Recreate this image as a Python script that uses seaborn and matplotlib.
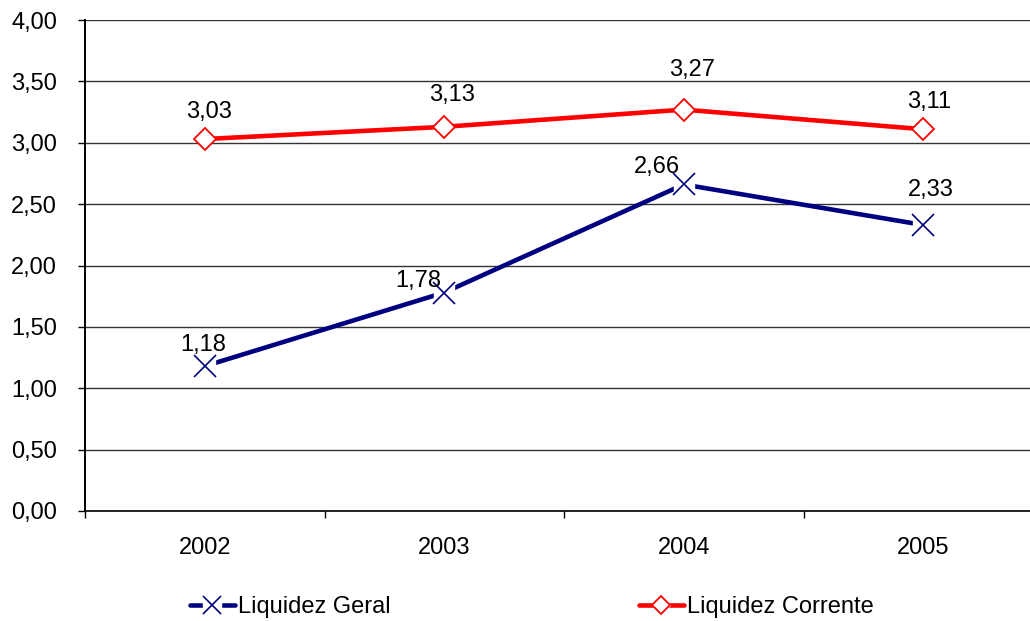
import matplotlib
matplotlib.use("Agg")
import matplotlib.pyplot as plt
from matplotlib.lines import Line2D
from matplotlib.legend_handler import HandlerTuple
from matplotlib.ticker import FixedLocator, FuncFormatter
import pandas as pd
import seaborn as sns

# Liquidity ratios per year
years = ["2002", "2003", "2004", "2005"]
liquidez_geral = [1.18, 1.78, 2.66, 2.33]
liquidez_corrente = [3.03, 3.13, 3.27, 3.11]
series_names = ["Liquidez Geral", "Liquidez Corrente"]
y_ticks = [0.0, 0.5, 1.0, 1.5, 2.0, 2.5, 3.0, 3.5, 4.0]

# Style
colors = {"Liquidez Geral": "#000080", "Liquidez Corrente": "#FF0000"}
FS = 17
# label offsets in pixels (dx, dy) per point, so labels sit clear of the lines
label_offsets = {
    "Liquidez Geral": [(-2, 21), (-26, 12), (-27, 17), (8, 35)],
    "Liquidez Corrente": [(4, 27), (8, 32), (8, 40), (6, 27)],
}

sns.set_theme(style="white")
plt.rcParams["font.family"] = ["Liberation Sans", "DejaVu Sans"]
plt.rcParams.update({
    "text.color": "black",
    "xtick.color": "black",
    "ytick.color": "black",
    "xtick.labelcolor": "black",
    "ytick.labelcolor": "black",
})

df = pd.DataFrame({
    "ano": years * 2,
    "valor": liquidez_geral + liquidez_corrente,
    "serie": [series_names[0]] * len(years) + [series_names[1]] * len(years),
})

fig = plt.figure(figsize=(10.30, 6.21), dpi=100)
ax = fig.add_axes([85 / 1030, 110 / 621, 958 / 1030, 491 / 621])

sns.lineplot(data=df, x="ano", y="valor", hue="serie", palette=colors,
             linewidth=3.3, legend=False, ax=ax, zorder=3)

xpos = list(range(len(years)))
# white pad under the cross markers breaks the line around them
ax.plot(xpos, liquidez_geral, ls="none", marker="s", ms=15, mfc="white",
        mec="white", zorder=4)
ax.plot(xpos, liquidez_geral, ls="none", marker="x", ms=15.5, mew=1.2,
        color=colors["Liquidez Geral"], zorder=5)
ax.plot(xpos, liquidez_corrente, ls="none", marker="D", ms=11, mfc="white",
        mec=colors["Liquidez Corrente"], mew=1.3, zorder=5)


def fmt(v):
    return f"{v:.2f}".replace(".", ",")


for name, values in zip(series_names, [liquidez_geral, liquidez_corrente]):
    for i, v in enumerate(values):
        dx, dy = label_offsets[name][i]
        ax.annotate(fmt(v), (i, v), xytext=(dx, dy), textcoords="offset pixels",
                    ha="center", va="center", fontsize=FS, color="black",
                    zorder=6)

# axes
ax.set_xlim(-0.5, len(years) - 0.5)
ax.set_ylim(0, 4)
ax.yaxis.set_major_locator(FixedLocator(y_ticks))
ax.yaxis.set_major_formatter(FuncFormatter(lambda v, p: fmt(v)))
ax.set_xlabel("")
ax.set_ylabel("")
ax.xaxis.set_minor_locator(FixedLocator([i - 0.5 for i in range(len(years) + 1)]))
ax.tick_params(axis="x", which="major", length=0, pad=19, labelsize=FS,
               labelcolor="black")
ax.tick_params(axis="x", which="minor", length=5, width=1, color="black",
               direction="out", bottom=True)
ax.tick_params(axis="y", which="major", length=5, width=1, color="black",
               direction="out", left=True, pad=15, labelsize=FS,
               labelcolor="black")

ax.grid(axis="y", color="#333333", linewidth=1.0, zorder=0)
ax.grid(axis="x", visible=False)
for s in ["top", "right"]:
    ax.spines[s].set_visible(False)
ax.spines["left"].set_color("black")
ax.spines["left"].set_linewidth(1.4)
ax.spines["bottom"].set_color("black")
ax.spines["bottom"].set_linewidth(1.2)

# legend
handles = []
for name in series_names:
    c = colors[name]
    line = Line2D([], [], color=c, linewidth=3.3)
    if name == "Liquidez Geral":
        pad = Line2D([], [], ls="none", marker="s", ms=13, mfc="white", mec="white")
        mk = Line2D([], [], ls="none", marker="x", ms=13, mew=1.2, color=c)
    else:
        pad = Line2D([], [], ls="none", marker="D", ms=9, mfc="white", mec="white")
        mk = Line2D([], [], ls="none", marker="D", ms=9, mfc="white", mec=c, mew=1.3)
    handles.append((line, pad, mk))

fig.legend(handles, series_names, handler_map={tuple: HandlerTuple(ndivide=1)},
           loc="center left", bbox_to_anchor=(190 / 1030, 14 / 621), ncol=2,
           frameon=False, fontsize=FS, handlelength=1.9, handletextpad=0.15,
           columnspacing=10.5, borderpad=0, borderaxespad=0, labelcolor="black")

fig.savefig("out.png", dpi=100)
